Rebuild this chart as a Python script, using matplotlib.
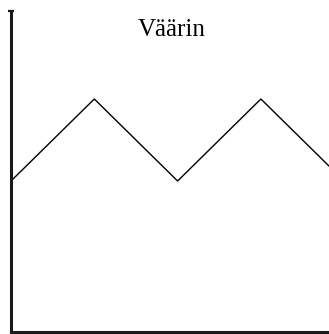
import matplotlib
matplotlib.use("Agg")
import matplotlib.pyplot as plt

# data
x_vals = [0, 1, 2, 3, 4]
y_vals = [0, 1, 0, 1, 0]
title_text = "Väärin"

W, H = 329, 334
fig = plt.figure(figsize=(W / 100, H / 100), dpi=100)
fig.patch.set_facecolor("white")

left_px, right_px, bottom_px, top_px = 11, 329, 332, 10.5
ax = fig.add_axes([left_px / W, (H - bottom_px) / H,
                   (right_px - left_px) / W, (bottom_px - top_px) / H])
ax.set_facecolor("white")

ax.plot(x_vals, y_vals, color="black", lw=1.0, solid_joinstyle="miter")

px_per_x = 83.3
px_per_y = 82.0
zero_y_px = 181
ax.set_xlim(0, (right_px - left_px) / px_per_x)
ymin = (zero_y_px - bottom_px) / px_per_y
ymax = (zero_y_px - top_px) / px_per_y
ax.set_ylim(ymin, ymax)

for s in ("top", "right"):
    ax.spines[s].set_visible(False)
for s in ("left", "bottom"):
    ax.spines[s].set_linewidth(2.2)
    ax.spines[s].set_color("#1a1a1a")

ax.set_xticks([])
ax.set_yticks([ymax])
ax.set_yticklabels([])
ax.tick_params(axis="y", direction="inout", length=5, width=1.6, color="#1a1a1a")

fig.text(172 / W, 1 - 36.5 / H, title_text, ha="center", va="baseline",
         fontsize=18, family=["Liberation Serif", "DejaVu Serif"], color="black")

fig.savefig("out.png", dpi=100, facecolor="white")
